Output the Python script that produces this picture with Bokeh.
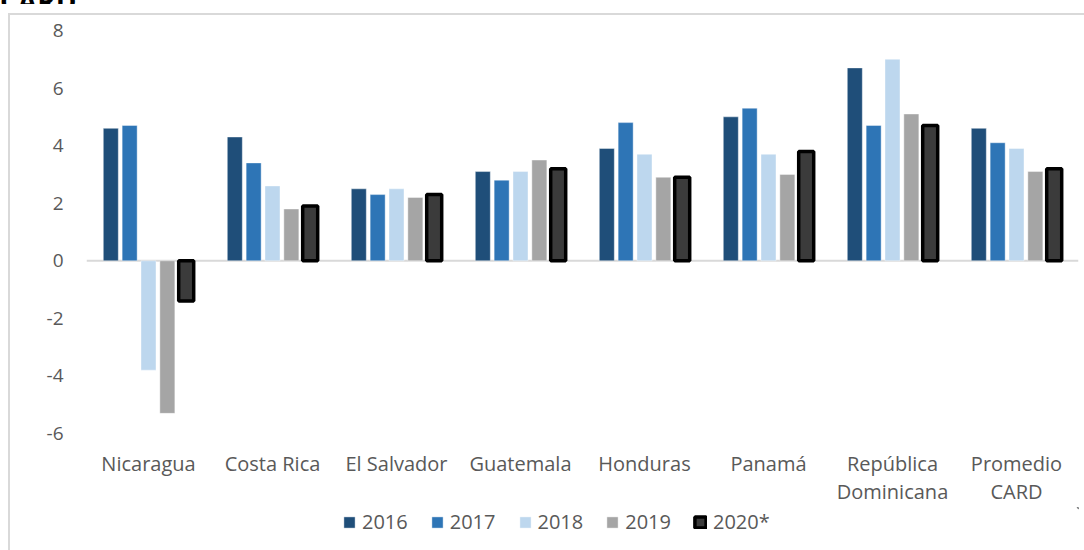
from bokeh.plotting import figure
from bokeh.layouts import column
from bokeh.models import (ColumnDataSource, FactorRange, Range1d, Span, Legend,
                          LegendItem, FixedTicker, Div)
from bokeh.transform import dodge
from bokeh.embed import file_html
from bokeh.resources import INLINE

# ---- data ----
categories = ["Nicaragua", "Costa Rica", "El Salvador", "Guatemala", "Honduras",
              "Panamá", "República\nDominicana", "Promedio\nCARD"]
years = ["2016", "2017", "2018", "2019", "2020*"]
v2016 = [4.6, 4.3, 2.5, 3.1, 3.9, 5.0, 6.7, 4.6]
v2017 = [4.7, 3.4, 2.3, 2.8, 4.8, 5.3, 4.7, 4.1]
v2018 = [-3.8, 2.6, 2.5, 3.1, 3.7, 3.7, 7.0, 3.9]
v2019 = [-5.3, 1.8, 2.2, 3.5, 2.9, 3.0, 5.1, 3.1]
v2020 = [-1.4, 1.9, 2.3, 3.2, 2.9, 3.8, 4.7, 3.2]
y_ticks = [-6, -4, -2, 0, 2, 4, 6, 8]
title_fragment = "CARD"

colors = ["#1F4E79", "#2E75B6", "#BDD7EE", "#A5A5A5", "#3B3B3B"]
offsets = [-0.304, -0.152, 0.0, 0.152, 0.304]
FONT = "Open Sans"
TXT = "#595959"
GRID = "#D9D9D9"

source = ColumnDataSource(dict(cat=categories, y2016=v2016, y2017=v2017,
                               y2018=v2018, y2019=v2019, y2020=v2020))
cols = ["y2016", "y2017", "y2018", "y2019", "y2020"]


def bar_style(i, yr):
    if yr == "2020*":
        return dict(fill_color=colors[i], line_color="black", line_width=3.5)
    return dict(fill_color=colors[i], line_color="white", line_alpha=0.4, line_width=1)


# ---- cut-off title line at the very top ----
title_div = Div(
    text=(f'<div style="font-family:\'{FONT}\';font-weight:bold;font-size:28px;'
          f'line-height:28px;color:#000;margin-top:-23px;margin-left:0px;'
          f'white-space:nowrap;">{title_fragment}</div>'),
    width=1084, height=4, margin=0,
    styles={"overflow": "hidden"})

# ---- main chart ----
p = figure(x_range=FactorRange(*categories), y_range=Range1d(-6, 8),
           width=1084, height=503, output_backend="svg", toolbar_location=None,
           min_border_left=86, min_border_right=6, min_border_top=26,
           min_border_bottom=68, margin=0)
p.border_fill_color = None
p.background_fill_color = None
p.outline_line_color = None
p.xgrid.visible = False
p.ygrid.visible = False

p.add_layout(Span(location=0, dimension="width", line_color=GRID, line_width=2,
                  level="underlay"))

for i, (col, yr) in enumerate(zip(cols, years)):
    p.vbar(x=dodge("cat", offsets[i], range=p.x_range), top=col, bottom=0,
           width=0.121, source=source, **bar_style(i, yr))

p.yaxis.ticker = FixedTicker(ticks=y_ticks)
p.yaxis.major_label_overrides = {t: str(t) for t in y_ticks}
for ax in (p.xaxis[0], p.yaxis[0]):
    ax.axis_line_color = None
    ax.major_tick_line_color = None
    ax.minor_tick_line_color = None
    ax.major_label_text_font = FONT
    ax.major_label_text_color = TXT
p.yaxis.major_label_text_font_size = "19px"
p.xaxis.major_label_text_font_size = "20px"
p.xaxis.major_label_text_line_height = 1.05
p.yaxis.major_label_standoff = 17
p.xaxis.major_label_standoff = 10

# ---- legend strip (its swatch bars sit far outside the strip's visible range) ----
lf = figure(x_range=Range1d(0, 1), y_range=Range1d(0, 1), width=1084, height=43,
            output_backend="svg", toolbar_location=None, min_border=0, margin=0)
lf.border_fill_color = None
lf.background_fill_color = None
lf.outline_line_color = None
lf.axis.visible = False
lf.grid.visible = False
leg_renderers = [lf.vbar(x=[50], top=[51], bottom=[50], width=0.1, **bar_style(i, yr))
                 for i, yr in enumerate(years)]
legend = Legend(items=[LegendItem(label=y, renderers=[r])
                       for y, r in zip(years, leg_renderers)],
                orientation="horizontal", location=(256, 15),
                glyph_width=14, glyph_height=14, label_standoff=6, spacing=22,
                padding=0, margin=0, border_line_color=None,
                background_fill_alpha=0, label_text_font=FONT,
                label_text_font_size="20px", label_text_color=TXT)
lf.add_layout(legend)

layout = column(title_div, p, lf, spacing=0, margin=0)
layout.styles = {
    "background": (f"linear-gradient({GRID},{GRID}) 8px 13px / 2px 100% no-repeat, "
                   f"linear-gradient({GRID},{GRID}) 8px 13px / 100% 2px no-repeat, "
                   "#ffffff")
}

open("out.html", "w").write(file_html(layout, INLINE))
